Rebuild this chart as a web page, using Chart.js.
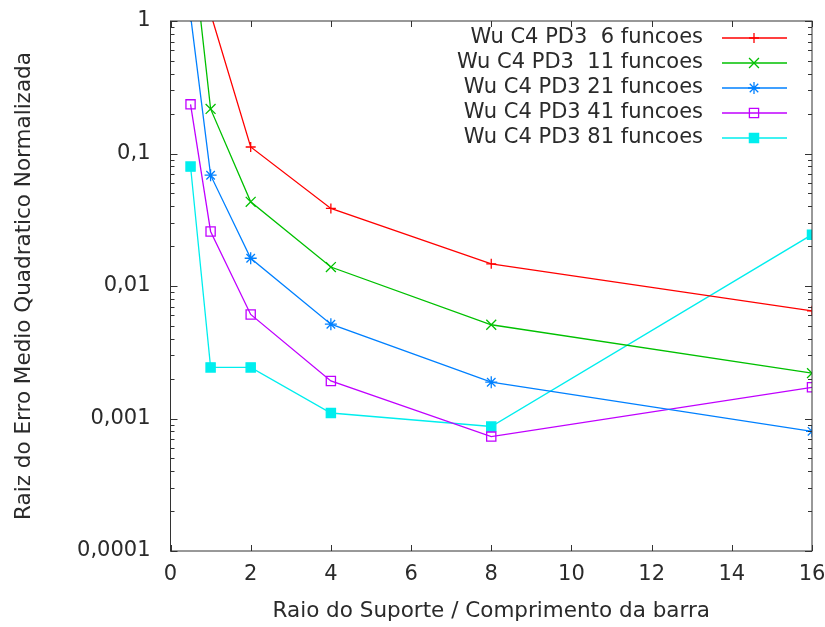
<!DOCTYPE html>
<html>
<head>
<meta charset="utf-8">
<script src="https://cdn.jsdelivr.net/npm/chart.js@4.4.1/dist/chart.umd.min.js"></script>
<style>
body { margin: 0; background: #fff; }
#chartparent { width: 825px; height: 627px; }
</style>
</head>
<body>
<div id="chartparent"><canvas id="myChart" width="825" height="627"></canvas></div>
<script>
/***** ***** Data ***** *****/
var raio = [0.5, 1, 2, 4, 8, 16];
var erro6 = [8, 1.14, 0.112, 0.0385, 0.0147, 0.0065];
var erro11 = [5, 0.217, 0.0432, 0.0139, 0.0051, 0.0022];
var erro21 = [1.1, 0.0686, 0.0162, 0.00515, 0.00188, 0.0008];
var erro41 = [0.235, 0.0258, 0.0061, 0.00192, 0.00073, 0.00172];
var erro81 = [0.0797, 0.00243, 0.00243, 0.0011, 0.00087, 0.0244];
var nomes = ['Wu C4 PD3  6 funcoes', 'Wu C4 PD3  11 funcoes', 'Wu C4 PD3 21 funcoes', 'Wu C4 PD3 41 funcoes', 'Wu C4 PD3 81 funcoes'];
var xticks = [0, 2, 4, 6, 8, 10, 12, 14, 16];
var yticks = [0.0001, 0.001, 0.01, 0.1, 1];
var ytickLabels = ['0,0001', '0,001', '0,01', '0,1', '1'];
/***** ***** !Data ***** *****/

var TEXT = '#2a2a2a';
var FONT = 'DejaVu Sans';

function pontos(ys) {
    return raio.map(function(x, i) { return { x: x, y: ys[i] }; });
}

function serie(label, ys, color, style, radius, fill) {
    return {
        label: label,
        data: pontos(ys),
        borderColor: color,
        backgroundColor: color,
        borderWidth: 1.3,
        pointStyle: style,
        pointRadius: radius,
        pointHoverRadius: radius,
        pointBorderWidth: 1.3,
        pointBorderColor: color,
        pointBackgroundColor: fill,
        tension: 0,
        clip: 0
    };
}

// frame + inward ticks on all four sides, like gnuplot
var moldura = {
    id: 'moldura',
    afterDatasetsDraw: function(chart) {
        var ctx = chart.ctx;
        var a = chart.chartArea;
        var sx = chart.scales.x;
        var sy = chart.scales.y;
        ctx.save();
        ctx.strokeStyle = '#333';
        ctx.lineWidth = 1;
        ctx.beginPath();
        xticks.forEach(function(v) {
            var px = Math.round(sx.getPixelForValue(v)) + 0.5;
            ctx.moveTo(px, a.bottom); ctx.lineTo(px, a.bottom - 6);
            ctx.moveTo(px, a.top); ctx.lineTo(px, a.top + 6);
        });
        for (var i = 0; i < yticks.length; i++) {
            var py = Math.round(sy.getPixelForValue(yticks[i])) + 0.5;
            ctx.moveTo(a.left, py); ctx.lineTo(a.left + 7, py);
            ctx.moveTo(a.right, py); ctx.lineTo(a.right - 7, py);
            if (i < yticks.length - 1) {
                for (var m = 2; m <= 9; m++) {
                    var pm = Math.round(sy.getPixelForValue(m * yticks[i])) + 0.5;
                    ctx.moveTo(a.left, pm); ctx.lineTo(a.left + 4, pm);
                    ctx.moveTo(a.right, pm); ctx.lineTo(a.right - 4, pm);
                }
            }
        }
        ctx.stroke();
        ctx.strokeRect(a.left, a.top, a.right - a.left, a.bottom - a.top);
        ctx.restore();
    }
};

// key in the top right corner, text right aligned then sample
var legenda = {
    id: 'legenda',
    afterDraw: function(chart) {
        var ctx = chart.ctx;
        ctx.save();
        ctx.font = '21px "' + FONT + '"';
        ctx.textAlign = 'right';
        ctx.textBaseline = 'middle';
        chart.data.datasets.forEach(function(ds, i) {
            var y = 38 + i * 25;
            ctx.fillStyle = TEXT;
            ctx.fillText(ds.label, 703, y);
            ctx.strokeStyle = ds.borderColor;
            ctx.lineWidth = ds.borderWidth;
            ctx.beginPath();
            ctx.moveTo(722, y);
            ctx.lineTo(787, y);
            ctx.stroke();
            if (Chart.helpers && Chart.helpers.drawPoint) {
                ctx.fillStyle = ds.pointBackgroundColor;
                Chart.helpers.drawPoint(ctx, {
                    pointStyle: ds.pointStyle,
                    radius: ds.pointRadius,
                    rotation: 0,
                    borderWidth: ds.pointBorderWidth
                }, 754, y);
            }
        });
        ctx.restore();
    }
};

Chart.defaults.font.family = FONT;
Chart.defaults.font.size = 21;
Chart.defaults.color = TEXT;

var myChart = new Chart(document.getElementById('myChart'), {
    type: 'line',
    data: {
        datasets: [
            serie(nomes[0], erro6, '#ff0000', 'cross', 5, '#ff0000'),
            serie(nomes[1], erro11, '#00c000', 'crossRot', 7, '#00c000'),
            serie(nomes[2], erro21, '#0080ff', 'star', 6, '#0080ff'),
            serie(nomes[3], erro41, '#c000ff', 'rect', 6.5, 'rgba(0,0,0,0)'),
            serie(nomes[4], erro81, '#00eeee', 'rect', 6.5, '#00eeee')
        ]
    },
    options: {
        responsive: false,
        animation: false,
        layout: { padding: { top: 21, right: 13, left: 0, bottom: 0 } },
        plugins: {
            legend: { display: false },
            tooltip: { enabled: false }
        },
        scales: {
            x: {
                type: 'linear',
                min: 0,
                max: 16,
                afterBuildTicks: function(s) { s.ticks = xticks.map(function(v) { return { value: v }; }); },
                afterFit: function(s) {
                    s.height = 76;
                    s.paddingLeft = 0;
                    s.paddingRight = 0;
                },
                grid: { display: false, drawTicks: false },
                border: { display: false },
                ticks: { padding: 11, maxRotation: 0, autoSkip: false },
                title: {
                    display: true,
                    text: 'Raio do Suporte / Comprimento da barra',
                    font: { size: 21.5 },
                    padding: { top: 0, bottom: 3 }
                }
            },
            y: {
                type: 'logarithmic',
                min: 0.0001,
                max: 1,
                afterBuildTicks: function(s) { s.ticks = yticks.map(function(v) { return { value: v }; }); },
                afterFit: function(s) {
                    s.width = 170.5;
                    s.paddingTop = 0;
                    s.paddingBottom = 0;
                },
                grid: { display: false, drawTicks: false },
                border: { display: false },
                ticks: {
                    padding: 20,
                    autoSkip: false,
                    callback: function(v) {
                        for (var i = 0; i < yticks.length; i++) {
                            if (Math.abs(Math.log10(v / yticks[i])) < 1e-6) return ytickLabels[i];
                        }
                        return '';
                    }
                },
                title: {
                    display: true,
                    text: 'Raiz do Erro Medio Quadratico Normalizada',
                    font: { size: 21.5 },
                    padding: { top: 12, bottom: 0 }
                }
            }
        }
    },
    plugins: [moldura, legenda]
});
</script>
</body>
</html>
